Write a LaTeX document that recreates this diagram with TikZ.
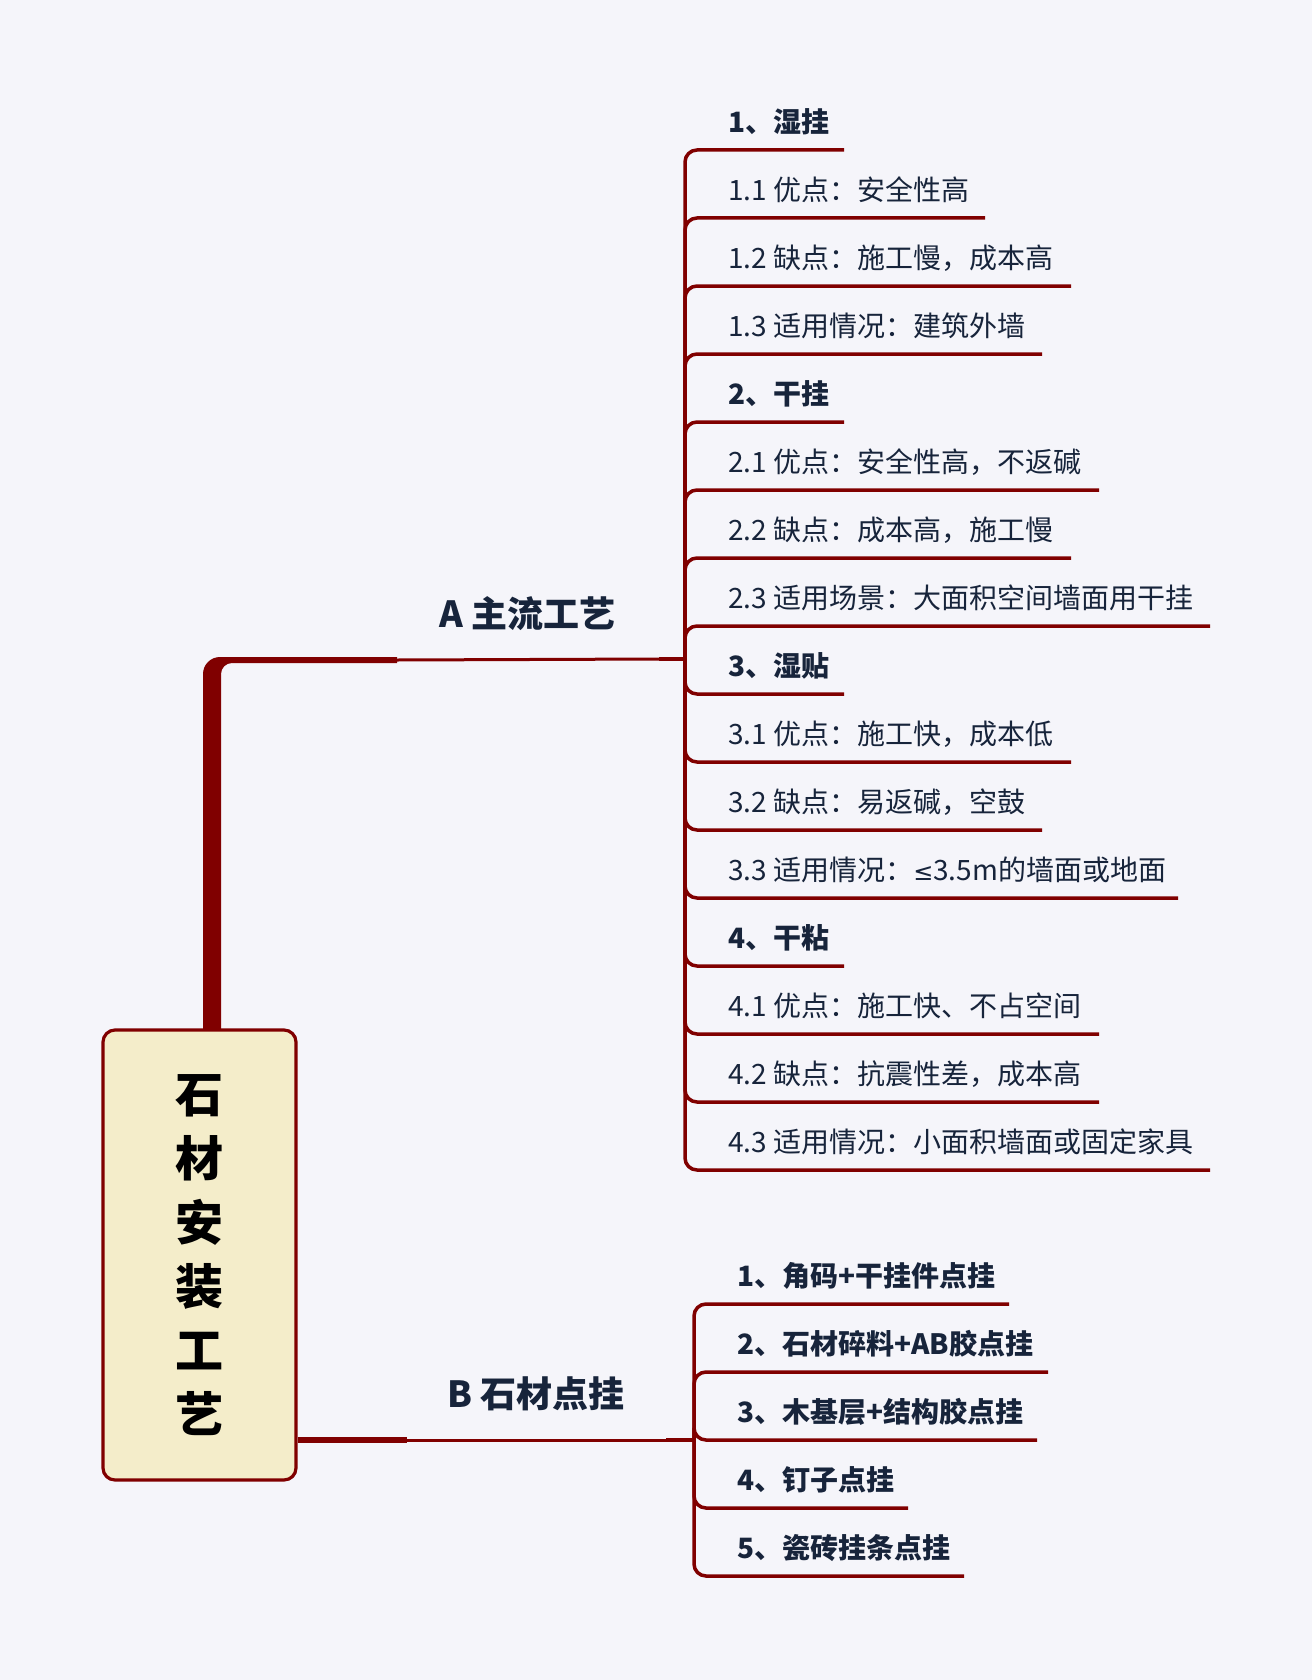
\documentclass[tikz,border=0pt]{standalone}
\usepackage{fontspec}
\setmainfont{Noto Sans CJK SC}
\newfontfamily\symfont{DejaVu Sans}
\definecolor{bg}{HTML}{F5F5FA}
\definecolor{dred}{HTML}{800000}
\definecolor{ink}{HTML}{17243B}
\definecolor{cream}{HTML}{F4EDCA}
\tikzset{
  itemtext/.style={anchor=west, inner sep=0pt, text=ink, font=\fontsize{28}{32}\selectfont},
  itembold/.style={anchor=west, inner sep=0pt, text=ink, font=\fontsize{28}{32}\selectfont\bfseries},
  branchlabel/.style={inner sep=0pt, text=ink, font=\fontsize{36}{40}\selectfont\bfseries},
  conn/.style={draw=dred, line width=3.5pt, rounded corners=12pt},
  mainline/.style={draw=dred, line width=3pt},
  thickline/.style={draw=dred, line width=5.5pt},
  rootbox/.style={draw=dred, line width=3.2pt, fill=cream, rounded corners=12pt,
    minimum width=193pt, minimum height=450pt, align=center, text=black,
    font=\fontsize{48}{64}\selectfont\bfseries}
}
\begin{document}
\begin{tikzpicture}[x=1pt,y=-1pt]
\fill[bg] (0,0) rectangle (1312,1680);
\useasboundingbox (0,0) rectangle (1312,1680);

% trunk from root up to A branch
\fill[dred] (203,1036) -- (203,674) arc[start angle=180,end angle=90,radius=17pt]
  -- (397,657) -- (397,663) -- (232,663) arc[start angle=90,end angle=180,radius=11pt]
  -- (221,1036) -- cycle;
\coordinate (trunkend) at (397,660);

\node[rootbox] (root) at (199.5,1255) {石\\材\\安\\装\\工\\艺};

% ---------- A branch ----------
\node[branchlabel] (A) at (527,614) {A 主流工艺};
\coordinate (ja) at (659,659);
\coordinate (ba) at (685,659);
\draw[mainline] (trunkend) -- (ja);
\draw[conn] (ja) -- (ba);

\node[itembold] (a1) at (728,122) {1、湿挂};
\coordinate (a1e) at (844,150);
\node[itemtext] (a2) at (728,190) {1.1 优点：安全性高};
\coordinate (a2e) at (985,218);
\node[itemtext] (a3) at (728,258) {1.2 缺点：施工慢，成本高};
\coordinate (a3e) at (1071,286);
\node[itemtext] (a4) at (728,326) {1.3 适用情况：建筑外墙};
\coordinate (a4e) at (1042,354);
\node[itembold] (a5) at (728,394) {2、干挂};
\coordinate (a5e) at (844,422);
\node[itemtext] (a6) at (728,462) {2.1 优点：安全性高，不返碱};
\coordinate (a6e) at (1099,490);
\node[itemtext] (a7) at (728,530) {2.2 缺点：成本高，施工慢};
\coordinate (a7e) at (1071,558);
\node[itemtext] (a8) at (728,598) {2.3 适用场景：大面积空间墙面用干挂};
\coordinate (a8e) at (1210,626);
\node[itembold] (a9) at (728,666) {3、湿贴};
\coordinate (a9e) at (844,694);
\node[itemtext] (a10) at (728,734) {3.1 优点：施工快，成本低};
\coordinate (a10e) at (1071,762);
\node[itemtext] (a11) at (728,802) {3.2 缺点：易返碱，空鼓};
\coordinate (a11e) at (1042,830);
\node[itemtext] (a12) at (728,870) {3.3 适用情况：{\symfont\fontsize{24}{32}\selectfont ≤}3.5m的墙面或地面};
\coordinate (a12e) at (1178,898);
\node[itembold] (a13) at (728,938) {4、干粘};
\coordinate (a13e) at (844,966);
\node[itemtext] (a14) at (728,1006) {4.1 优点：施工快、不占空间};
\coordinate (a14e) at (1099,1034);
\node[itemtext] (a15) at (728,1074) {4.2 缺点：抗震性差，成本高};
\coordinate (a15e) at (1099,1102);
\node[itemtext] (a16) at (728,1142) {4.3 适用情况：小面积墙面或固定家具};
\coordinate (a16e) at (1210,1170);

\foreach \k in {1,...,16} {
  \draw[conn] (ba) |- (a\k e);
}

% ---------- B branch ----------
\node[branchlabel] (B) at (536,1394) {B 石材点挂};
\coordinate (jb0) at (407,1440);
\coordinate (jb) at (666,1440);
\coordinate (bb) at (694,1440);
\draw[thickline] (root.east |- jb0) -- (jb0);
\draw[mainline] (jb0) -- (jb);
\draw[conn] (jb) -- (bb);

\node[itembold] (b1) at (737,1276) {1、角码+干挂件点挂};
\coordinate (b1e) at (1009,1304);
\node[itembold] (b2) at (737,1344) {2、石材碎料+AB胶点挂};
\coordinate (b2e) at (1048,1372);
\node[itembold] (b3) at (737,1412) {3、木基层+结构胶点挂};
\coordinate (b3e) at (1037,1440);
\node[itembold] (b4) at (737,1480) {4、钉子点挂};
\coordinate (b4e) at (908,1508);
\node[itembold] (b5) at (737,1548) {5、瓷砖挂条点挂};
\coordinate (b5e) at (964,1576);

\foreach \k in {1,...,5} {
  \draw[conn] (bb) |- (b\k e);
}
\end{tikzpicture}
\end{document}
